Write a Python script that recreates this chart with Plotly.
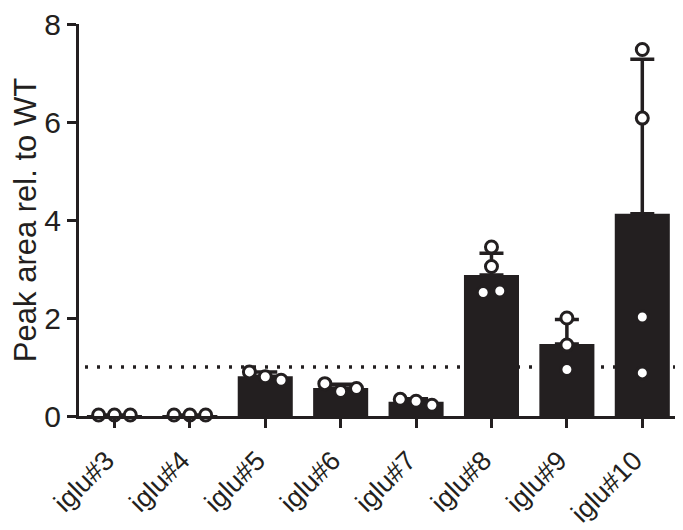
import plotly.graph_objects as go

# strains on the x axis
strains = ["iglu#3", "iglu#4", "iglu#5", "iglu#6", "iglu#7", "iglu#8", "iglu#9", "iglu#10"]

# bar heights (mean) and upper SD
means = [0.02, 0.02, 0.81, 0.57, 0.29, 2.88, 1.47, 4.13]
sd_up = [0.0, 0.0, 0.09, 0.08, 0.06, 0.44, 0.50, 3.15]

# single replicates per strain
points = [
    [0.02, 0.02, 0.02],
    [0.02, 0.02, 0.02],
    [0.90, 0.80, 0.73],
    [0.66, 0.50, 0.56],
    [0.34, 0.30, 0.22],
    [3.45, 3.05, 2.52, 2.55],
    [2.00, 1.45, 0.95],
    [7.48, 6.08, 2.02, 0.88],
]
# horizontal scatter of the replicates (category units)
jitter = [
    [-0.21, 0.0, 0.21],
    [-0.21, 0.0, 0.21],
    [-0.21, 0.0, 0.21],
    [-0.21, 0.0, 0.21],
    [-0.21, 0.0, 0.21],
    [0.0, 0.0, -0.11, 0.11],
    [0.0, 0.0, 0.0],
    [0.0, 0.0, 0.0, 0.0],
]

yticks = [0, 2, 4, 6, 8]
wt_level = 1

INK = "#231f20"
FONT = "Liberation Sans, Arial, sans-serif"

xpos = list(range(len(strains)))

fig = go.Figure()

fig.add_trace(go.Bar(
    x=xpos, y=means, width=0.73,
    marker=dict(color=INK, line=dict(width=0)),
    error_y=dict(type="data", symmetric=False, array=sd_up, arrayminus=[0] * len(sd_up),
                 color=INK, thickness=3.5, width=12),
    showlegend=False,
))

px_x, px_y = [], []
for i, (vals, jit) in enumerate(zip(points, jitter)):
    for v, j in zip(vals, jit):
        px_x.append(i + j)
        px_y.append(v)

fig.add_trace(go.Scatter(
    x=px_x, y=px_y, mode="markers", cliponaxis=False,
    marker=dict(symbol="circle", size=12, color="white", line=dict(color=INK, width=3)),
    showlegend=False,
))

# reference line at WT level, behind the bars
fig.add_shape(type="line", xref="paper", x0=0.01, x1=1, yref="y", y0=wt_level, y1=wt_level,
              layer="below", line=dict(color=INK, width=3.5, dash="3px,9px"))

# the page body adds an 8px offset, so margins are shifted to compensate
fig.update_layout(
    width=683, height=530,
    margin=dict(l=71, r=11, t=16, b=122),
    plot_bgcolor="white", paper_bgcolor="white",
    font=dict(family=FONT, color=INK),
)
fig.update_xaxes(
    range=[-0.47, 7.5], tickmode="array", tickvals=xpos, ticktext=strains,
    tickangle=-45, tickfont=dict(size=27), automargin=False,
    ticklabelstandoff=6, ticklabelshift=-8,
    showline=True, linecolor=INK, linewidth=3,
    ticks="outside", ticklen=9, tickwidth=3, tickcolor=INK,
    showgrid=False, zeroline=False,
)
fig.update_yaxes(
    range=[0, 8], tickvals=yticks, tickfont=dict(size=30), ticklabeloverflow="allow",
    automargin=False,
    showline=True, linecolor=INK, linewidth=3,
    ticks="outside", ticklen=9, tickwidth=3, tickcolor=INK,
    showgrid=False, zeroline=False,
    title=dict(text="Peak area rel. to WT", font=dict(size=31), standoff=18),
)

fig.write_html("out.html")
